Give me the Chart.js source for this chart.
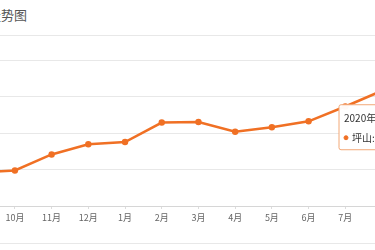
<!DOCTYPE html>
<html>
<head>
<meta charset="utf-8">
<script src="https://cdn.jsdelivr.net/npm/chart.js@4/dist/chart.umd.min.js"></script>
<style>
  html, body { margin: 0; padding: 0; }
  body { width: 375px; height: 250px; overflow: hidden; position: relative; background: #fff;
         font-family: "Noto Sans CJK SC", "Noto Sans", sans-serif; }
  .title { position: absolute; top: 5px; right: 348px; font-size: 13px; color: #555; white-space: nowrap; }
  .sep { position: absolute; left: 0; width: 375px; height: 1px; background: #e8e8e8; }
  #wrap { position: absolute; left: -25px; top: 57px; }
</style>
</head>
<body>
<div class="title">坪山房价走势图</div>
<div class="sep" style="top:35px"></div>
<div class="sep" style="top:243px"></div>
<div id="wrap"><canvas id="trendChart" width="507" height="179"></canvas></div>
<script>
// ====================== Data ======================
const months = ["2019年9月", "2019年10月", "2019年11月", "2019年12月", "2020年1月", "2020年2月",
                "2020年3月", "2020年4月", "2020年5月", "2020年6月", "2020年7月", "2020年8月"];
const tickLabels = ["9月", "10月", "11月", "12月", "1月", "2月", "3月", "4月", "5月", "6月", "7月", "8月"];
const prices = [34600, 34870, 37070, 38470, 38780, 41450, 41530, 40180, 40810, 41620, 43650, 45810];
const seriesName = "坪山";

const orange = "#f07024";
const font = "'Noto Sans CJK SC', 'Noto Sans', sans-serif";

// keep the tooltip next to the hovered point, like the original
Chart.Tooltip.positioners.pinned = function (items) {
  if (!items.length) return false;
  const el = items[0].element;
  return { x: el.x - 41, y: el.y + 14 };
};

const ctx = document.getElementById("trendChart").getContext("2d");
const chart = new Chart(ctx, {
  type: "line",
  data: {
    labels: months,
    datasets: [{
      label: seriesName,
      data: prices,
      borderColor: orange,
      backgroundColor: orange,
      borderWidth: 2.5,
      pointRadius: 3.2,
      pointHoverRadius: 3.2,
      pointBackgroundColor: orange,
      pointBorderWidth: 0,
      tension: 0,
      clip: false
    }]
  },
  options: {
    responsive: false,
    animation: false,
    events: [],
    layout: { padding: { left: 0, right: 100, top: 0, bottom: 0 } },
    scales: {
      x: {
        grid: { drawOnChartArea: false, tickLength: 3, color: "#dcdcdc" },
        border: { color: "#d6d6d6" },
        ticks: {
          color: "#666",
          font: { family: font, size: 9 },
          padding: 3,
          maxRotation: 0,
          autoSkip: false,
          callback: (val, i) => tickLabels[i]
        },
        afterFit: s => { s.height = 30; s.paddingLeft = 0; s.paddingRight = 0; }
      },
      y: {
        min: 30000,
        max: 50000,
        ticks: { display: false, stepSize: 5000 },
        grid: { color: "#e8e8e8", drawTicks: false },
        border: { display: false }
      }
    },
    plugins: {
      legend: { display: false },
      title: { display: false },
      tooltip: {
        position: "pinned",
        xAlign: "left",
        yAlign: "top",
        caretSize: 0,
        caretPadding: 0,
        cornerRadius: 2,
        backgroundColor: "rgba(255,255,255,0.96)",
        borderColor: "#f2a877",
        borderWidth: 1,
        titleColor: "#333",
        bodyColor: "#333",
        titleFont: { family: font, size: 10, weight: "normal" },
        bodyFont: { family: font, size: 10 },
        titleMarginBottom: 8,
        padding: { left: 5, right: 10, top: 7, bottom: 6 },
        usePointStyle: true,
        boxWidth: 4,
        boxHeight: 4,
        boxPadding: 2,
        callbacks: {
          title: items => months[items[0].dataIndex],
          label: c => `${c.dataset.label}: ${c.raw}`,
          labelPointStyle: () => ({ pointStyle: "circle", rotation: 0 })
        }
      }
    }
  }
});

// show the tooltip on the last month
const last = prices.length - 1;
const pt = chart.getDatasetMeta(0).data[last];
chart.tooltip.setActiveElements([{ datasetIndex: 0, index: last }], { x: pt.x, y: pt.y });
chart.update();
</script>
</body>
</html>
